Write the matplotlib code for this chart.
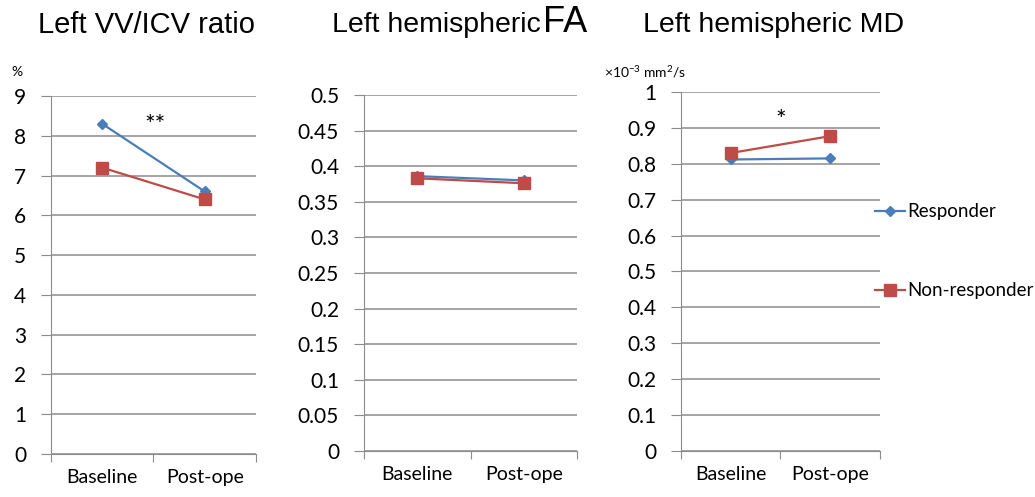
import numpy as np
import matplotlib
matplotlib.use('Agg')
import matplotlib.pyplot as plt
from matplotlib.lines import Line2D

plt.rcParams['font.family'] = ['Lato', 'DejaVu Sans']

# data
categories = ['Baseline', 'Post-ope']
vv_resp = [8.3, 6.6]
vv_nonresp = [7.2, 6.4]
fa_resp = [0.386, 0.380]
fa_nonresp = [0.383, 0.376]
md_resp = [0.812, 0.815]
md_nonresp = [0.830, 0.877]

blue = '#4A7EBB'
red = '#BE4B48'
grid_c = '#8C8C8C'
title_font = ['Liberation Sans', 'DejaVu Sans']

fig = plt.figure(figsize=(10.35, 4.97), dpi=100)

# axes positions in figure fraction
boxes = [
    [0.0493, 0.0865, 0.198, 0.7203],
    [0.3517, 0.0926, 0.2058, 0.7163],
    [0.658, 0.0926, 0.192, 0.7223],
]
ylims = [(0, 9), (0, 0.5), (0, 1)]
ysteps = [1, 0.05, 0.1]
series = [(vv_resp, vv_nonresp), (fa_resp, fa_nonresp), (md_resp, md_nonresp)]

axes = []
for box, yl, st, (r, nr) in zip(boxes, ylims, ysteps, series):
    ax = fig.add_axes(box)
    x = np.array([0.5, 1.5])
    ax.plot(x, r, color=blue, lw=1.6, marker='D', ms=5.5, zorder=3)
    ax.plot(x, nr, color=red, lw=1.6, marker='s', ms=8.5, zorder=4)
    ax.set_xlim(0, 2)
    ax.set_ylim(*yl)
    yt = np.arange(yl[0], yl[1] + st / 2, st)
    ax.set_yticks(yt)
    ax.set_yticklabels([('%g' % round(v, 2)) for v in yt])
    ax.yaxis.grid(True, color=grid_c, lw=1.1)
    ax.set_axisbelow(True)
    ax.set_xticks([0, 1, 2])
    ax.set_xticklabels([])
    ax.set_xticks(x, minor=True)
    ax.set_xticklabels(categories, minor=True)
    ax.tick_params(axis='x', which='major', length=6, color=grid_c, direction='out')
    ax.tick_params(axis='x', which='minor', length=0, pad=11, labelsize=14)
    ax.tick_params(axis='y', length=7, color=grid_c, labelsize=15, pad=11)
    for s in ['top', 'right']:
        ax.spines[s].set_visible(False)
    ax.spines['left'].set_color(grid_c)
    ax.spines['bottom'].set_color(grid_c)
    axes.append(ax)

# titles
fig.text(0.142, 0.95, 'Left VV/ICV ratio', fontsize=21, ha='center', va='center',
         family=title_font)
fig.text(0.522, 0.95, 'Left hemispheric', fontsize=20.5, ha='right', va='center',
         family=title_font)
fig.text(0.525, 0.954, 'FA', fontsize=26, ha='left', va='center', family=title_font)
fig.text(0.747, 0.95, 'Left hemispheric MD', fontsize=20.5, ha='center', va='center',
         family=title_font)

# units
fig.text(0.011, 0.855, '%', fontsize=10, ha='left', va='center')
fig.text(0.584, 0.855, r'×10$^{\mathregular{-3}}$ mm$^{\mathregular{2}}$/s',
         fontsize=10, ha='left', va='center')

# significance marks
axes[0].text(1.02, 8.25, '**', fontsize=18, ha='center', va='center')
axes[2].text(1.0, 0.92, '*', fontsize=18, ha='center', va='center')

# legend
handles = [
    Line2D([], [], color=blue, lw=1.6, marker='D', ms=5.5),
    Line2D([], [], color=red, lw=1.6, marker='s', ms=8.5),
]
fig.legend(handles, ['Responder', 'Non-responder'], loc='upper left',
           bbox_to_anchor=(0.829, 0.625), frameon=False, fontsize=13.5,
           labelspacing=3.3, handlelength=1.6, handletextpad=0.15)

fig.savefig('out.png', dpi=100)
